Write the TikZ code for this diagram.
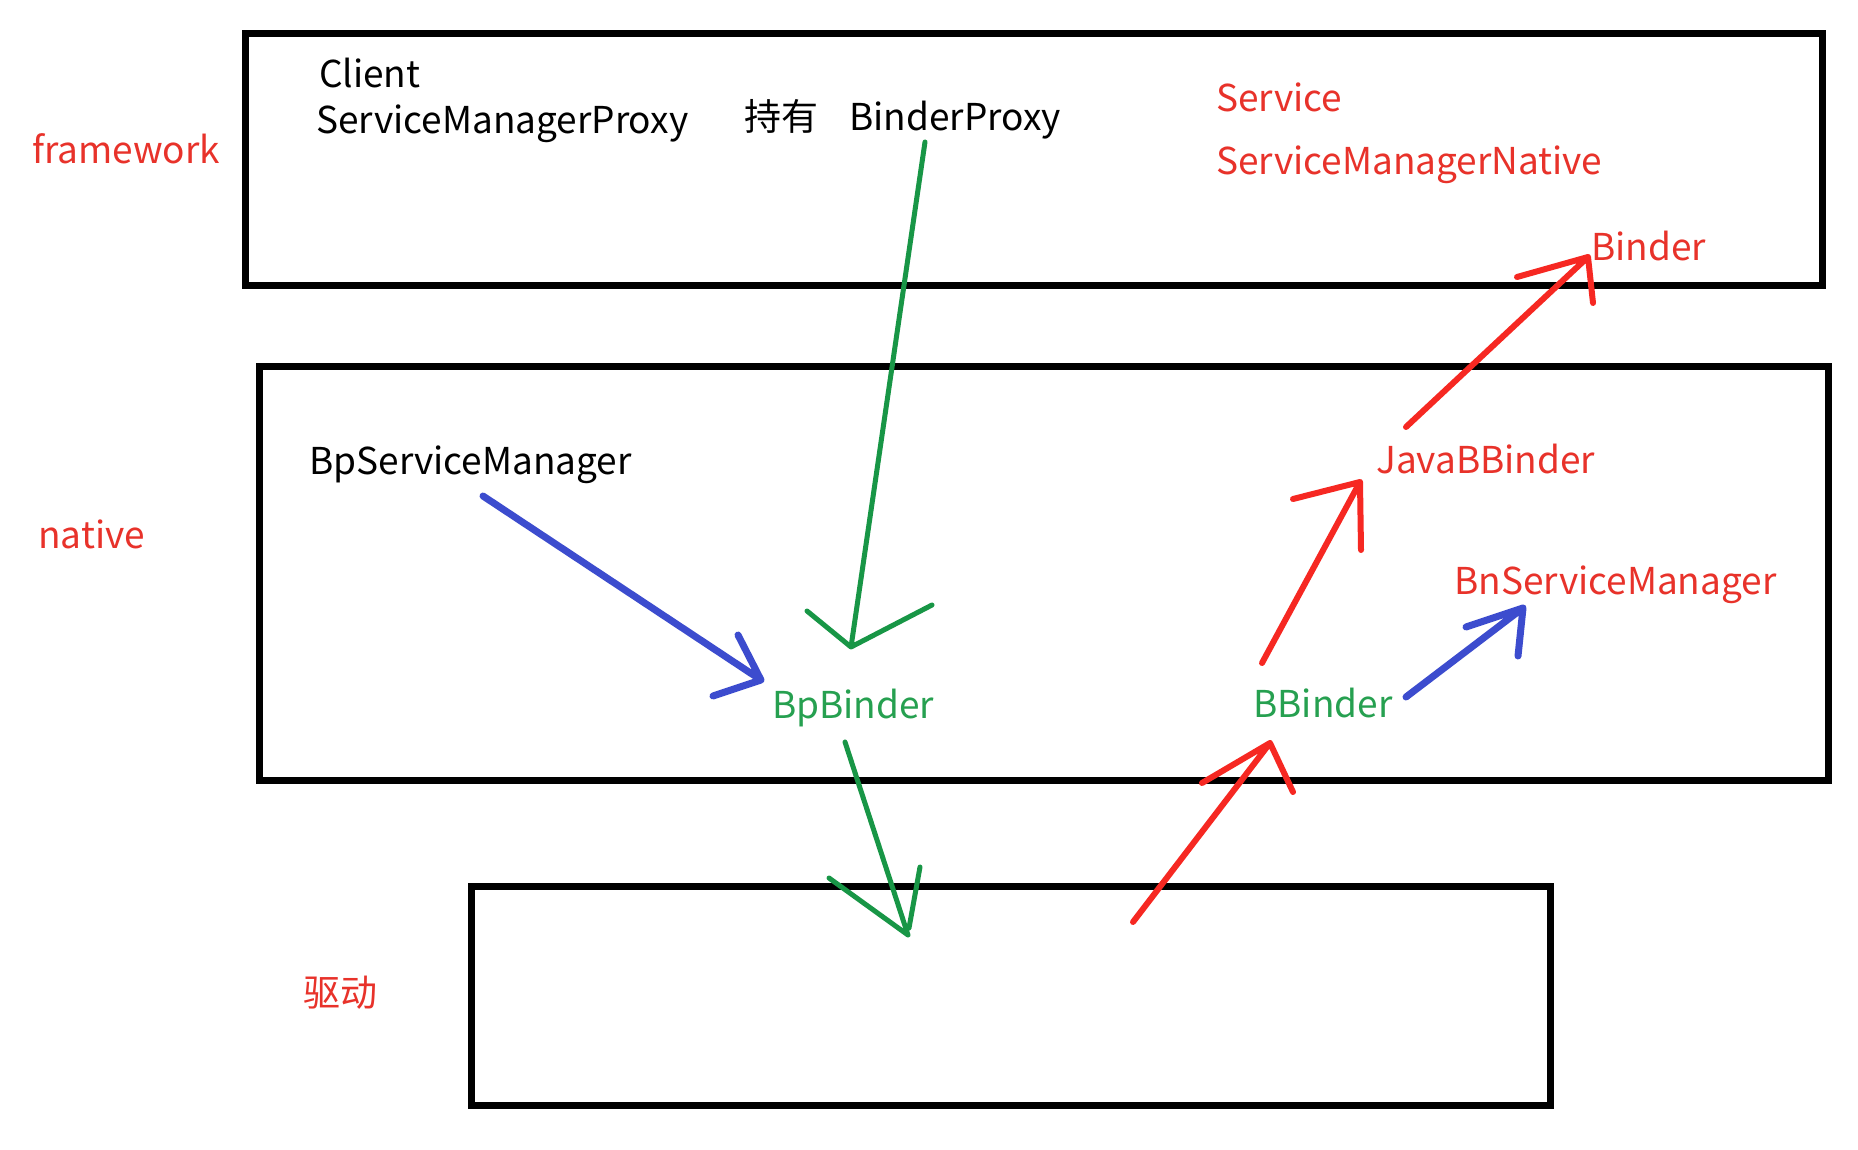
\documentclass[tikz,border=0pt]{standalone}
\usepackage{fontspec}
\setmainfont{Noto Sans CJK SC}
\definecolor{lblred}{RGB}{232,50,42}
\definecolor{penred}{RGB}{246,40,34}
\definecolor{lblgreen}{RGB}{38,160,80}
\definecolor{pengreen}{RGB}{24,150,70}
\definecolor{penblue}{RGB}{60,76,206}
\begin{document}
\begin{tikzpicture}[x=1pt,y=-1pt,
  lbl/.style={inner sep=0pt, anchor=base west, font=\fontsize{37}{42}\selectfont},
  redlbl/.style={lbl, text=lblred},
  greenlbl/.style={lbl, text=lblgreen},
  box/.style={draw=black, line width=7pt},
  pen/.style={line cap=round, line join=round},
  redpen/.style={pen, draw=penred, line width=6pt},
  greenpen/.style={pen, draw=pengreen, line width=5pt},
  bluepen/.style={pen, draw=penblue, line width=7pt}]
\fill[white] (0,0) rectangle (1858,1150);
\path[use as bounding box] (0,0) rectangle (1858,1150);

% layer boxes
\draw[box] (245,34) rectangle (1822,286);
\draw[box] (259,366) rectangle (1828,780);
\draw[box] (471,886) rectangle (1550,1105);

% layer labels
\node[redlbl] (lfw) at (32,164) {framework};
\node[redlbl] (lnat) at (38,548) {native};
\node[redlbl] (ldrv) at (303,1006) {驱动};

% framework texts
\node[lbl] (client) at (319,88) {Client};
\node[lbl] (smp) at (316,134) {ServiceManagerProxy};
\node[lbl] (hold) at (744,131) {持有};
\node[lbl] (bproxy) at (849,131) {BinderProxy};
\node[redlbl] (service) at (1216,112) {Service};
\node[redlbl] (smn) at (1216,175) {ServiceManagerNative};
\node[redlbl] (binder) at (1591,261) {Binder};

% native texts
\node[lbl] (bpsm) at (309,474) {BpServiceManager};
\node[greenlbl] (bpb) at (772,718) {BpBinder};
\node[greenlbl] (bb) at (1253,717) {BBinder};
\node[redlbl] (jbb) at (1376,473) {JavaBBinder};
\node[redlbl] (bnsm) at (1454,594) {BnServiceManager};

% arrow end points
\coordinate (g1s) at (925,142);  \coordinate (g1t) at (851,647);
\coordinate (g1a) at (807,611);  \coordinate (g1b) at (932,605);
\coordinate (b1s) at (483,496);  \coordinate (b1t) at (761,680);
\coordinate (b1a) at (738,635);  \coordinate (b1b) at (713,696);
\coordinate (g2s) at (845,742);  \coordinate (g2t) at (908,935);
\coordinate (g2a) at (829,878);  \coordinate (g2b) at (920,867);
\coordinate (g2c) at (909,928);
\coordinate (r1s) at (1133,922); \coordinate (r1t) at (1270,743);
\coordinate (r1a) at (1202,783); \coordinate (r1b) at (1293,792);
\coordinate (r2s) at (1262,663); \coordinate (r2t) at (1360,482);
\coordinate (r2a) at (1293,499); \coordinate (r2b) at (1361,550);
\coordinate (r3s) at (1406,427); \coordinate (r3t) at (1588,257);
\coordinate (r3a) at (1517,277); \coordinate (r3b) at (1593,303);
\coordinate (b2s) at (1406,697); \coordinate (b2t) at (1523,608);
\coordinate (b2a) at (1466,627); \coordinate (b2b) at (1518,656);

% BinderProxy -> BpBinder
\draw[greenpen] (g1s) -- (g1t) (g1a) -- (g1t) -- (g1b);
% BpServiceManager -> BpBinder
\draw[bluepen] (b1s) -- (b1t) (b1a) -- (b1t) -- (b1b);
% BpBinder -> driver
\draw[greenpen] (g2s) -- (g2t) (g2a) -- (g2t) (g2b) -- (g2c);
% driver -> BBinder
\draw[redpen] (r1s) -- (r1t) (r1a) -- (r1t) -- (r1b);
% BBinder -> JavaBBinder
\draw[redpen] (r2s) -- (r2t) (r2a) -- (r2t) -- (r2b);
% JavaBBinder -> Binder
\draw[redpen] (r3s) -- (r3t) (r3a) -- (r3t) -- (r3b);
% BBinder -> BnServiceManager
\draw[bluepen] (b2s) -- (b2t) (b2a) -- (b2t) -- (b2b);
\end{tikzpicture}
\end{document}
